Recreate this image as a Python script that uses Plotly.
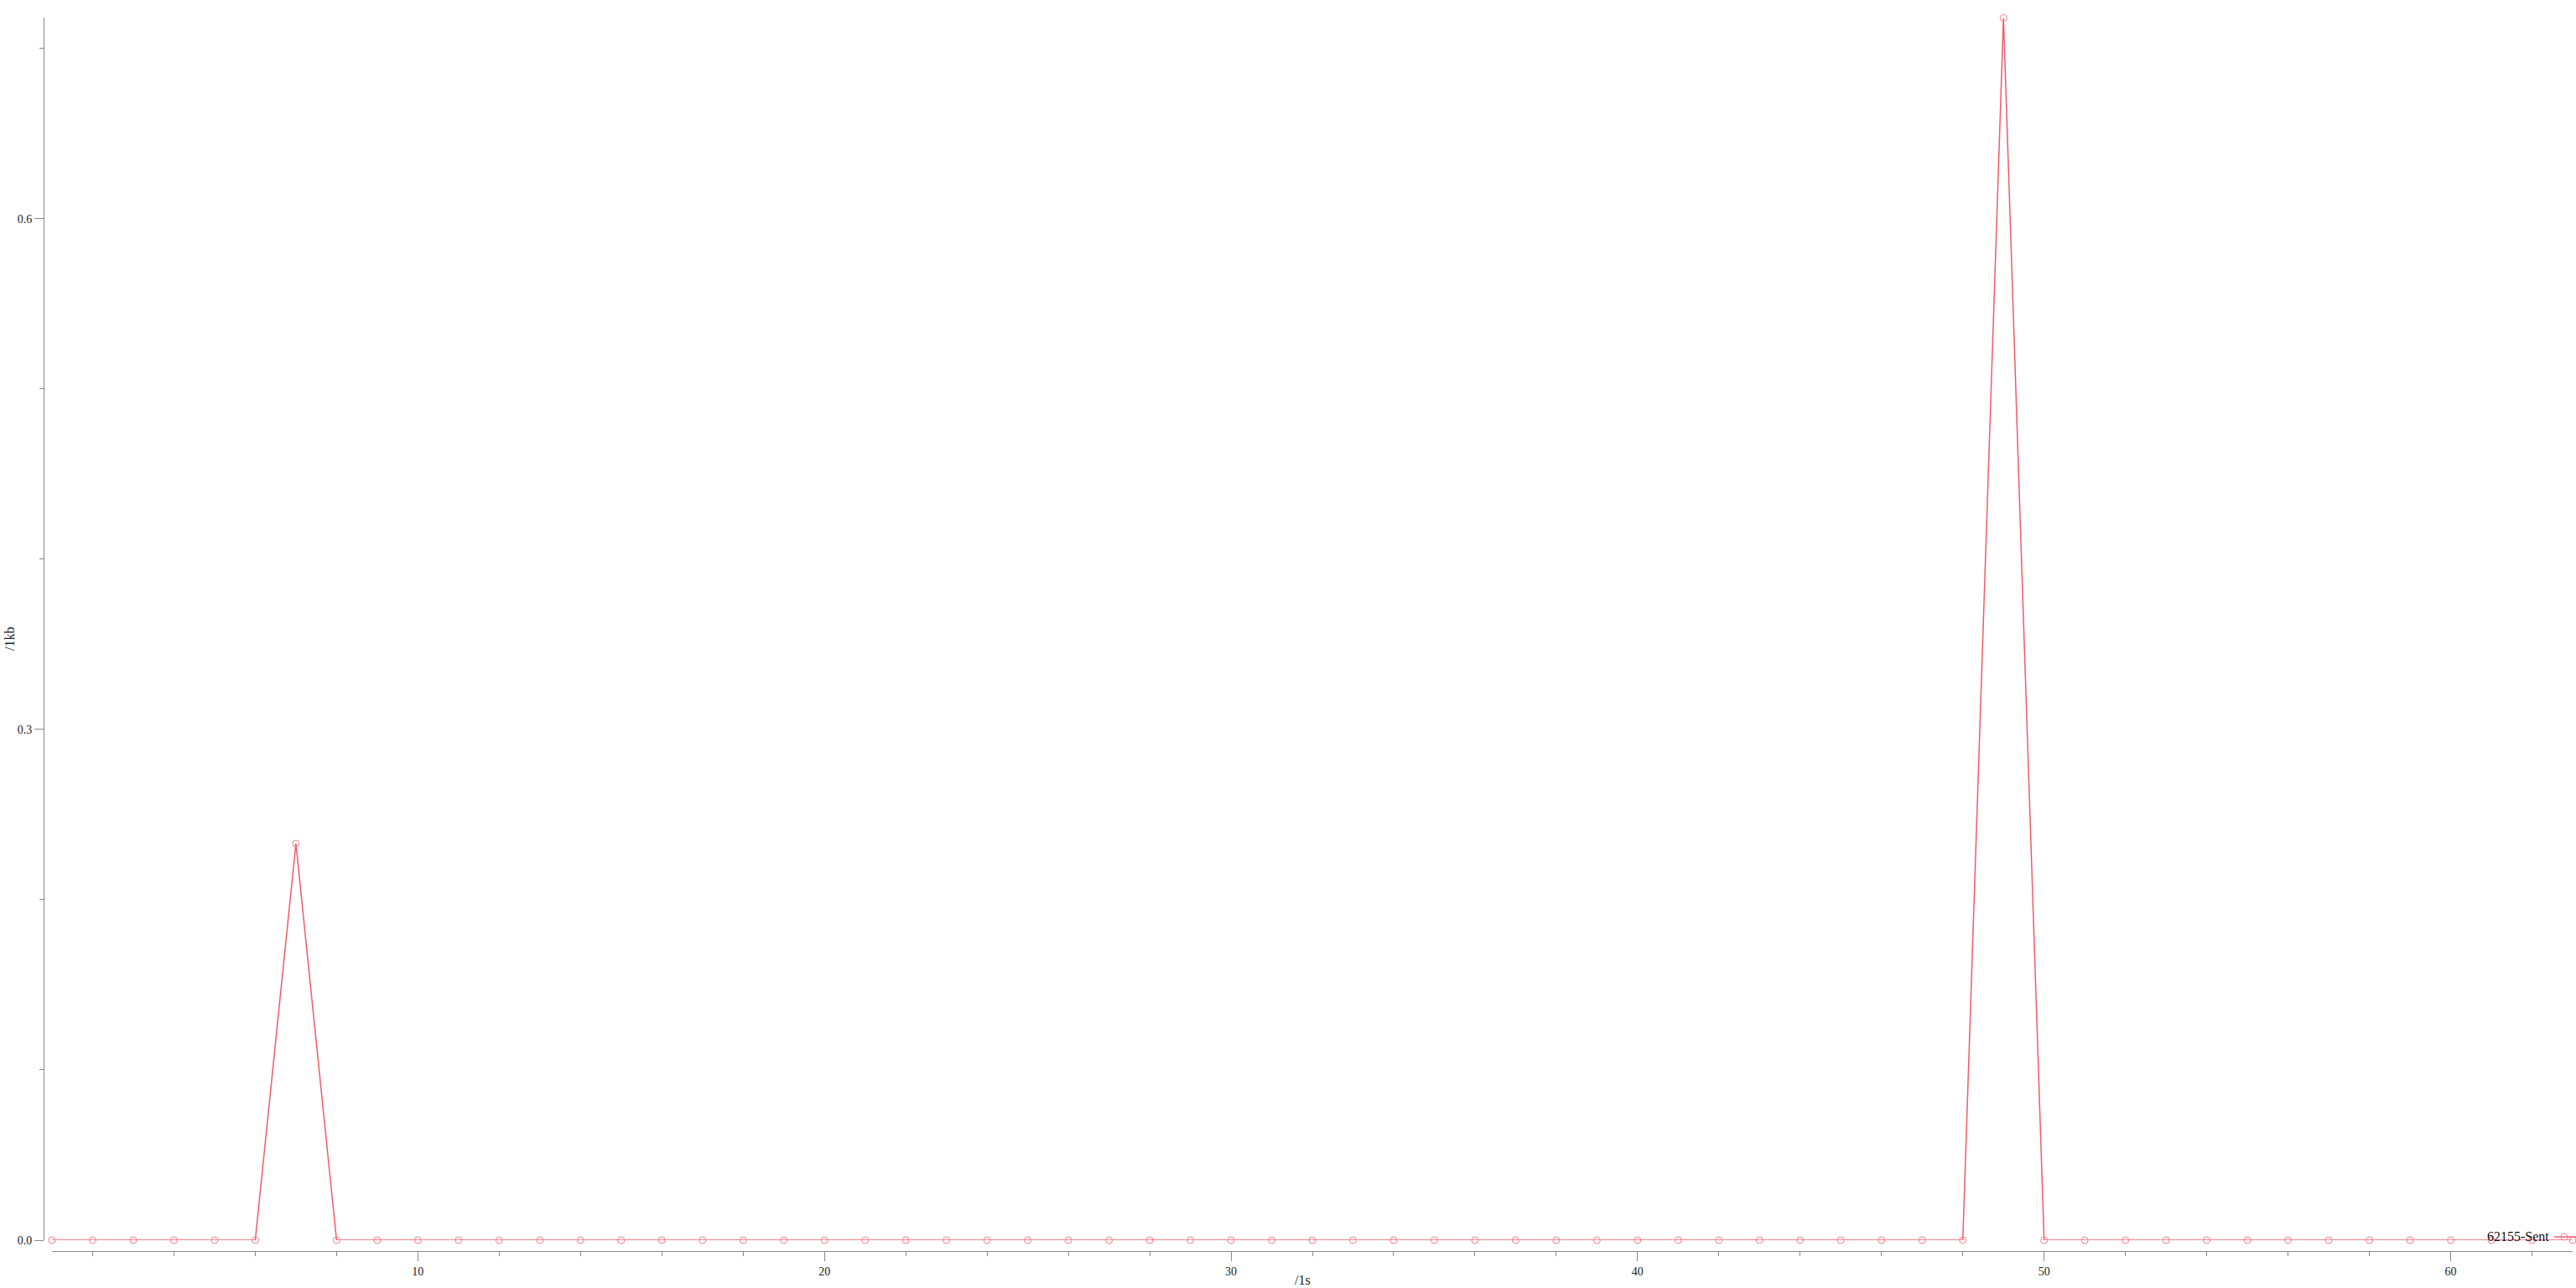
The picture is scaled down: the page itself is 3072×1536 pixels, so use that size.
import plotly.graph_objects as go

# ---- data ----
seconds = list(range(1, 64))
sent_kb = [0.0] * 63
sent_kb[6] = 0.233   # t = 7
sent_kb[48] = 0.718  # t = 49
series_name = "62155-Sent"
x_title = "/1s"
y_title = "/1kb"
y_tick_vals = [0.0, 0.3, 0.6]
y_tick_text = ["0.0", "0.3", "0.6"]
x_tick_vals = [10, 20, 30, 40, 50, 60]

# ---- geometry (pixels) ----
W, H = 3072, 1536
ML, MR, MT, MB = 52, 0, 21, 44
PW = W - ML - MR
PH = H - MT - MB
X_LEFT_PX, X_RIGHT_PX = 62, 3068
Y_ZERO_PX = 1479
AXIS_PX = H - MB


def px(x):
    return (x - ML) / PW


def py(y):
    return (AXIS_PX - y) / PH


LINE_COLOR = "rgba(240,72,92,0.9)"
MARKER_COLOR = "#f37f8b"
AXIS_COLOR = "#888888"
FONT = "Liberation Serif"

fig = go.Figure()
fig.add_trace(go.Scatter(
    x=seconds, y=sent_kb, mode="lines+markers", name=series_name,
    line=dict(color=LINE_COLOR, width=1.5),
    marker=dict(symbol="circle-open", size=8, color=MARKER_COLOR,
                line=dict(width=1, color=MARKER_COLOR)),
    cliponaxis=False, showlegend=False,
))

fig.update_layout(
    width=W, height=H,
    margin=dict(l=ML, r=MR, t=MT, b=MB, pad=0),
    paper_bgcolor="white", plot_bgcolor="white",
    font=dict(family=FONT, size=14, color="#222222"),
    xaxis=dict(
        domain=[px(X_LEFT_PX), px(X_RIGHT_PX)],
        range=[1, 63], anchor="free", position=0,
        showline=True, linecolor=AXIS_COLOR, linewidth=1,
        showgrid=False, zeroline=False,
        tickmode="array", tickvals=x_tick_vals,
        ticks="outside", ticklen=11, tickcolor=AXIS_COLOR, tickwidth=1,
        minor=dict(dtick=2, tick0=0, ticks="outside", ticklen=5,
                   tickcolor=AXIS_COLOR, tickwidth=1, showgrid=False),
        tickfont=dict(family=FONT, size=14, color="#222222"),
    ),
    yaxis=dict(
        domain=[py(Y_ZERO_PX), 1],
        range=[0, 0.7182], anchor="free", position=0,
        showline=True, linecolor=AXIS_COLOR, linewidth=1,
        showgrid=False, zeroline=False,
        tickmode="array", tickvals=y_tick_vals, ticktext=y_tick_text,
        ticks="outside", ticklen=11, tickcolor=AXIS_COLOR, tickwidth=1,
        minor=dict(dtick=0.1, tick0=0, ticks="outside", ticklen=5,
                   tickcolor=AXIS_COLOR, tickwidth=1, showgrid=False),
        tickfont=dict(family=FONT, size=14, color="#222222"),
    ),
)

# axis titles
fig.add_annotation(text=x_title, xref="paper", yref="paper",
                   x=px(1553), y=py(1526), showarrow=False,
                   xanchor="center", yanchor="middle",
                   font=dict(family=FONT, size=16, color="#222222"))
fig.add_annotation(text=y_title, xref="paper", yref="paper",
                   x=px(11), y=py(762), showarrow=False, textangle=-90,
                   xanchor="center", yanchor="middle",
                   font=dict(family=FONT, size=16, color="#222222"))

# legend (text + symbol on the right)
fig.add_annotation(text=series_name, xref="paper", yref="paper",
                   x=px(3042), y=py(1474), showarrow=False,
                   xanchor="right", yanchor="middle",
                   font=dict(family=FONT, size=16, color="#111111"))
fig.add_shape(type="line", xref="paper", yref="paper",
              x0=px(3046), x1=px(3072), y0=py(1475), y1=py(1475),
              line=dict(color=LINE_COLOR, width=1.5))
fig.add_shape(type="circle", xref="paper", yref="paper",
              x0=px(3054), x1=px(3062), y0=py(1479), y1=py(1471),
              line=dict(color=MARKER_COLOR, width=1), fillcolor="rgba(0,0,0,0)")

fig.write_html("out.html")
